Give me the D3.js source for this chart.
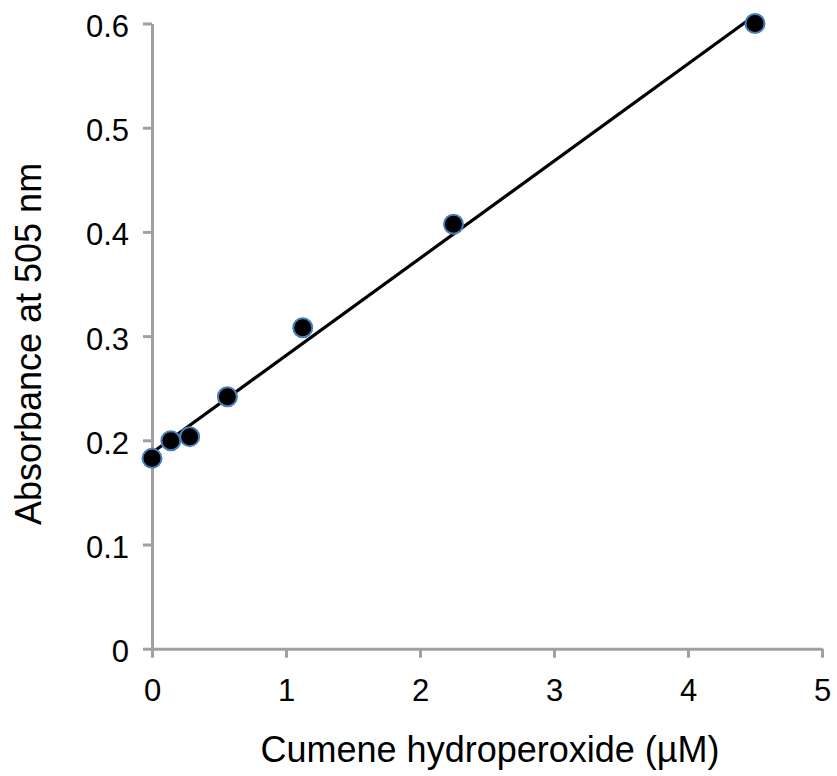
<!DOCTYPE html>
<html>
<head>
<meta charset="utf-8">
<script src="https://cdn.jsdelivr.net/npm/d3@7"></script>
<style>
	body { margin: 0; background: #fff; }
	svg { display: block; font-family: "Liberation Sans", Arial, sans-serif; }
</style>
</head>
<body>
<svg id="chart" width="837" height="776"></svg>
<script>
// concentrations (serial dilution) and measured absorbance
var concentrations = [0, 0.140625, 0.28125, 0.5625, 1.125, 2.25, 4.5];
var absorbance = [0.1827, 0.1996, 0.2035, 0.2418, 0.308, 0.4073, 0.600];
var xTicks = [0, 1, 2, 3, 4, 5];
var yTicks = [0, 0.1, 0.2, 0.3, 0.4, 0.5, 0.6];

var svg = d3.select("#chart");

var x = d3.scaleLinear().domain([0, 5]).range([152, 822]);
var y = d3.scaleLinear().domain([0, 0.6]).range([648.7, 23.5]);

var axisColor = "#a0a0a0";

// linear trendline (least squares) through the points
var n = concentrations.length;
var mx = d3.mean(concentrations), my = d3.mean(absorbance);
var sxy = 0, sxx = 0;
for (var i = 0; i < n; i++) {
	sxy += (concentrations[i] - mx) * (absorbance[i] - my);
	sxx += (concentrations[i] - mx) * (concentrations[i] - mx);
}
var slope = sxy / sxx;
var intercept = my - slope * mx;

// y axis
var yAxis = svg.append("g")
	.attr("transform", "translate(" + x(0) + ",0)")
	.call(d3.axisLeft(y)
		.tickValues(yTicks)
		.tickSizeInner(9)
		.tickSizeOuter(0)
		.tickPadding(14)
		.tickFormat(function(d) { return d === 0 ? "0" : d3.format(".1f")(d); }));

// x axis
var xAxis = svg.append("g")
	.attr("transform", "translate(0," + y(0) + ")")
	.call(d3.axisBottom(x)
		.tickValues(xTicks)
		.tickSizeInner(9)
		.tickSizeOuter(0)
		.tickPadding(21)
		.tickFormat(d3.format("d")));

[xAxis, yAxis].forEach(function(g) {
	g.select(".domain").attr("stroke", axisColor).attr("stroke-width", 3);
	g.selectAll(".tick line").attr("stroke", axisColor).attr("stroke-width", 3);
	g.selectAll(".tick text")
		.attr("fill", "#000")
		.style("font-size", "31px")
		.style("font-family", '"Liberation Sans", Arial, sans-serif');
});
yAxis.selectAll(".tick text").attr("dy", "0.42em");

// trendline
var lineX = d3.extent(concentrations);
svg.append("line")
	.attr("x1", x(lineX[0]))
	.attr("y1", y(intercept + slope * lineX[0]))
	.attr("x2", x(lineX[1]))
	.attr("y2", y(intercept + slope * lineX[1]))
	.attr("stroke", "#000")
	.attr("stroke-width", 3.2);

// points
svg.append("g").selectAll("circle")
	.data(concentrations)
	.enter().append("circle")
	.attr("cx", function(d) { return x(d); })
	.attr("cy", function(d, i) { return y(absorbance[i]); })
	.attr("r", 9.5)
	.attr("fill", "#000")
	.attr("stroke", "#4a7ebb")
	.attr("stroke-width", 2);

// axis titles
svg.append("text")
	.attr("x", (x(0) + x(5)) / 2 + 3)
	.attr("y", 761.7)
	.attr("text-anchor", "middle")
	.style("font-size", "36px")
	.text("Cumene hydroperoxide (µM)");

svg.append("text")
	.attr("transform", "translate(40.7,344) rotate(-90)")
	.attr("text-anchor", "middle")
	.style("font-size", "36px")
	.text("Absorbance at 505 nm");
</script>
</body>
</html>
